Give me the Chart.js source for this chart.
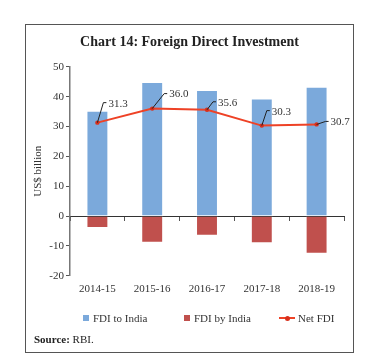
<!DOCTYPE html>
<html>
<head>
<meta charset="utf-8">
<script src="https://cdn.jsdelivr.net/npm/chart.js@4/dist/chart.umd.min.js"></script>
<style>
  body { margin: 0; background: #fff; }
  #box {
    position: absolute; left: 25px; top: 24px;
    width: 327px; height: 327px;
    border: 1px solid #555;
  }
  #chart { position: absolute; left: 0; top: 0; }
  #source {
    position: absolute; left: 8px; top: 308px;
    font: 11px "Liberation Serif", serif; color: #222;
  }
  .leg {
    position: absolute; top: 286px; height: 14px;
    font: 11px "Liberation Serif", serif; color: #333;
    display: flex; align-items: center; white-space: nowrap;
  }
  .sq { width: 6px; height: 6px; margin-right: 4px; }
  .ln { position: relative; width: 16px; height: 2px; margin-right: 3px; }
  .ln i { position: absolute; left: 6px; top: -1.5px; width: 5px; height: 5px; border-radius: 50%; }
</style>
</head>
<body>
<div id="box">
  <canvas id="chart" width="327" height="327"></canvas>
  <div id="legend"></div>
  <div id="source"><b>Source:</b> RBI.</div>
</div>
<script>
// Data (US$ billion)
const years = ['2014-15', '2015-16', '2016-17', '2017-18', '2018-19'];
const fdiToIndia = [35.3, 44.9, 42.2, 39.4, 43.3];
const fdiByIndia = [-4.0, -8.9, -6.6, -9.1, -12.6];
const netFdi = [31.3, 36.0, 35.6, 30.3, 30.7];
const yTicks = [-20, -10, 0, 10, 20, 30, 40, 50];

const serif = '"Liberation Serif", serif';
const blue = '#7ba9db';
const red = '#c0504d';
const lineRed = '#ee4226';

// where each Net FDI leader line ends, relative to its point
const labelOffsets = [[6, -20], [12, -15], [6, -8], [5, -15], [9, -3]];
// legend item left edges inside the box
const legendX = [57, 158, 253];

const leaderLabels = {
    id: 'leaderLabels',
    afterDatasetsDraw(chart) {
        const meta = chart.getDatasetMeta(2);
        const ctx = chart.ctx;
        ctx.save();
        ctx.font = '11px ' + serif;
        ctx.textBaseline = 'middle';
        ctx.fillStyle = '#333';
        ctx.strokeStyle = '#222';
        ctx.lineWidth = 1;
        meta.data.forEach((pt, i) => {
            const [dx, dy] = labelOffsets[i];
            const ex = pt.x + dx, ey = pt.y + dy;
            ctx.beginPath();
            ctx.moveTo(pt.x, pt.y);
            ctx.lineTo(ex, ey);
            ctx.lineTo(ex + 3, ey);
            ctx.stroke();
            ctx.fillText(netFdi[i].toFixed(1), ex + 5, ey + 1);
        });
        ctx.restore();
    }
};

const chart = new Chart(document.getElementById('chart'), {
    type: 'bar',
    data: {
        labels: years,
        datasets: [
            {
                label: 'FDI to India',
                data: fdiToIndia,
                backgroundColor: blue,
                borderColor: 'rgba(255,255,255,0.55)',
                borderWidth: 1,
                categoryPercentage: 1,
                barPercentage: 0.4,
                order: 2
            },
            {
                label: 'FDI by India',
                data: fdiByIndia,
                backgroundColor: red,
                borderColor: 'rgba(255,255,255,0.55)',
                borderWidth: 1,
                categoryPercentage: 1,
                barPercentage: 0.4,
                order: 2
            },
            {
                type: 'line',
                label: 'Net FDI',
                data: netFdi,
                borderColor: lineRed,
                backgroundColor: lineRed,
                borderWidth: 2,
                pointRadius: 2.2,
                pointBackgroundColor: '#d8301c',
                pointBorderWidth: 0,
                tension: 0,
                order: 1
            }
        ]
    },
    options: {
        responsive: false,
        animation: false,
        layout: { padding: { left: 9, right: 9, top: 0, bottom: 49 } },
        plugins: {
            title: {
                display: true,
                text: 'Chart 14: Foreign Direct Investment',
                color: '#222',
                font: { family: serif, size: 14, weight: 'bold' },
                padding: { top: 8.5, bottom: 16.5 }
            },
            legend: { display: false },
            tooltip: { enabled: false }
        },
        scales: {
            x: {
                stacked: true,
                border: { display: false },
                grid: { display: false, drawTicks: false },
                ticks: { color: '#333', padding: 7, font: { family: serif, size: 11 } }
            },
            x2: {
                type: 'category',
                labels: years,
                position: { y: 0 },
                offset: true,
                border: { display: true, color: '#333', width: 1 },
                grid: { offset: true, drawOnChartArea: false, drawTicks: true, tickLength: 4, color: '#555' },
                ticks: { display: false }
            },
            y: {
                min: -20,
                max: 50,
                border: { display: true, color: '#777', width: 1.5 },
                grid: { drawOnChartArea: false, drawTicks: true, tickLength: 4, color: '#555' },
                afterBuildTicks(scale) {
                    scale.ticks = yTicks.map(v => ({ value: v }));
                },
                afterFit(scale) {
                    scale.width = 35;
                },
                ticks: { color: '#333', padding: 2, font: { family: serif, size: 11 } },
                title: {
                    display: true,
                    text: 'US$ billion',
                    color: '#333',
                    padding: { top: -3, bottom: 0 },
                    font: { family: serif, size: 11 }
                }
            }
        }
    },
    plugins: [leaderLabels]
});

// legend built from the chart's datasets
const legend = document.getElementById('legend');
chart.data.datasets.forEach((ds, i) => {
    const item = document.createElement('div');
    item.className = 'leg';
    item.style.left = legendX[i] + 'px';
    const mark = document.createElement('span');
    if (ds.type === 'line') {
        mark.className = 'ln';
        mark.style.background = ds.borderColor;
        const dot = document.createElement('i');
        dot.style.background = ds.pointBackgroundColor;
        mark.appendChild(dot);
    } else {
        mark.className = 'sq';
        mark.style.background = ds.backgroundColor;
    }
    item.appendChild(mark);
    item.appendChild(document.createTextNode(ds.label));
    legend.appendChild(item);
});
</script>
</body>
</html>
